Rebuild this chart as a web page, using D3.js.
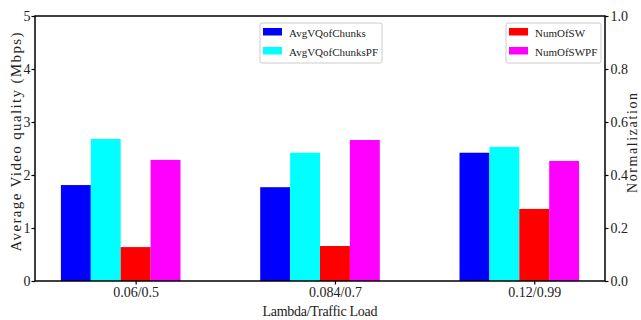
<!DOCTYPE html>
<html>
<head>
<meta charset="utf-8">
<script src="https://cdn.jsdelivr.net/npm/d3@7"></script>
<style>
  body { margin: 0; background: #fff; }
  svg { display: block; }
</style>
</head>
<body>
<div id="chart"></div>
<script>
  const categories = ["0.06/0.5", "0.084/0.7", "0.12/0.99"];
  const avgVQofChunks = [1.81, 1.77, 2.42];
  const avgVQofChunksPF = [2.68, 2.42, 2.53];
  const numOfSW = [0.128, 0.132, 0.272];
  const numOfSWPF = [0.457, 0.532, 0.453];
  const leftTicks = [0, 1, 2, 3, 4, 5];
  const rightTicks = [0, 0.2, 0.4, 0.6, 0.8, 1.0];

  const DIMS = {
    width: 641,
    height: 320,
    left: 35,
    right: 605,
    top: 16,
    bottom: 281,
    barWidth: 0.15
  }
  const FONT = "'Liberation Serif', 'Times New Roman', serif";

  const svg = d3.select("#chart")
    .append("svg")
    .attr("width", DIMS.width)
    .attr("height", DIMS.height)

  // SCALES
  const x = d3.scaleLinear().domain([-0.505, 2.355]).range([DIMS.left, DIMS.right]);
  const yLeft = d3.scaleLinear().domain([0, 5]).range([DIMS.bottom, DIMS.top]);
  const yRight = d3.scaleLinear().domain([0, 1]).range([DIMS.bottom, DIMS.top]);

  // SERIES: offset is where the bar starts relative to the tick
  const series = [
    { name: "AvgVQofChunks", values: avgVQofChunks, color: "#0000ff", offset: -0.375, scale: yLeft },
    { name: "AvgVQofChunksPF", values: avgVQofChunksPF, color: "#00ffff", offset: -0.225, scale: yLeft },
    { name: "NumOfSW", values: numOfSW, color: "#ff0000", offset: -0.075, scale: yRight },
    { name: "NumOfSWPF", values: numOfSWPF, color: "#ff00ff", offset: 0.075, scale: yRight }
  ];

  // DRAW BARS
  series.forEach(s => {
    svg.append("g")
      .selectAll("rect")
      .data(s.values)
      .join("rect")
      .attr("x", (d, i) => x(i + s.offset))
      .attr("width", x(DIMS.barWidth) - x(0))
      .attr("y", d => s.scale(d))
      .attr("height", d => DIMS.bottom - s.scale(d))
      .attr("fill", s.color)
  })

  // AXES
  const styleAxis = g => {
    g.select(".domain").remove();
    g.selectAll("line").attr("stroke", "#000").attr("stroke-width", 1.2);
    g.selectAll("text").style("font-family", FONT).style("font-size", "14px").attr("fill", "#222");
  }

  svg.append("g")
    .attr("transform", `translate(${DIMS.left},0)`)
    .call(d3.axisLeft(yLeft).tickValues(leftTicks).tickSize(3.5).tickPadding(1).tickFormat(d3.format("d")))
    .call(styleAxis)

  svg.append("g")
    .attr("transform", `translate(${DIMS.right},0)`)
    .call(d3.axisRight(yRight).tickValues(rightTicks).tickSize(3.5).tickPadding(2).tickFormat(d3.format(".1f")))
    .call(styleAxis)

  svg.append("g")
    .attr("transform", `translate(0,${DIMS.bottom})`)
    .call(d3.axisBottom(x).tickValues([0, 1, 2]).tickSize(3.5).tickPadding(3).tickFormat(i => categories[i]))
    .call(styleAxis)

  // FRAME
  svg.append("rect")
    .attr("x", DIMS.left)
    .attr("y", DIMS.top)
    .attr("width", DIMS.right - DIMS.left)
    .attr("height", DIMS.bottom - DIMS.top)
    .attr("fill", "none")
    .attr("stroke", "#000")
    .attr("stroke-width", 1.5)

  // AXIS LABELS
  svg.append("text")
    .attr("x", (DIMS.left + DIMS.right) / 2)
    .attr("y", 316)
    .attr("text-anchor", "middle")
    .attr("textLength", 115)
    .style("font-family", FONT)
    .style("font-size", "14px")
    .attr("fill", "#222")
    .text("Lambda/Traffic Load")

  svg.append("text")
    .attr("transform", "translate(21,142) rotate(-90)")
    .attr("text-anchor", "middle")
    .attr("textLength", 219)
    .style("font-family", FONT)
    .style("font-size", "15px")
    .attr("fill", "#222")
    .text("Average Video quality (Mbps)")

  svg.append("text")
    .attr("transform", "translate(637,143) rotate(-90)")
    .attr("text-anchor", "middle")
    .attr("textLength", 100)
    .style("font-family", FONT)
    .style("font-size", "14px")
    .attr("fill", "#222")
    .text("Normalization")

  // LEGENDS
  const drawLegend = (items, bx, bw) => {
    const g = svg.append("g").attr("transform", `translate(${bx},23)`);
    g.append("rect")
      .attr("width", bw)
      .attr("height", 40)
      .attr("rx", 2)
      .attr("fill", "#fff")
      .attr("fill-opacity", 0.8)
      .attr("stroke", "#cccccc")
      .attr("stroke-width", 1)
    items.forEach((s, i) => {
      g.append("rect")
        .attr("x", 3)
        .attr("y", 5 + i * 19)
        .attr("width", 19)
        .attr("height", 7.5)
        .attr("fill", s.color)
      g.append("text")
        .attr("x", 29)
        .attr("y", 13.5 + i * 19)
        .style("font-family", FONT)
        .style("font-size", "11px")
        .attr("fill", "#222")
        .text(s.name)
    })
  }
  drawLegend(series.slice(0, 2), 260, 122);
  drawLegend(series.slice(2), 506, 95);
</script>
</body>
</html>
